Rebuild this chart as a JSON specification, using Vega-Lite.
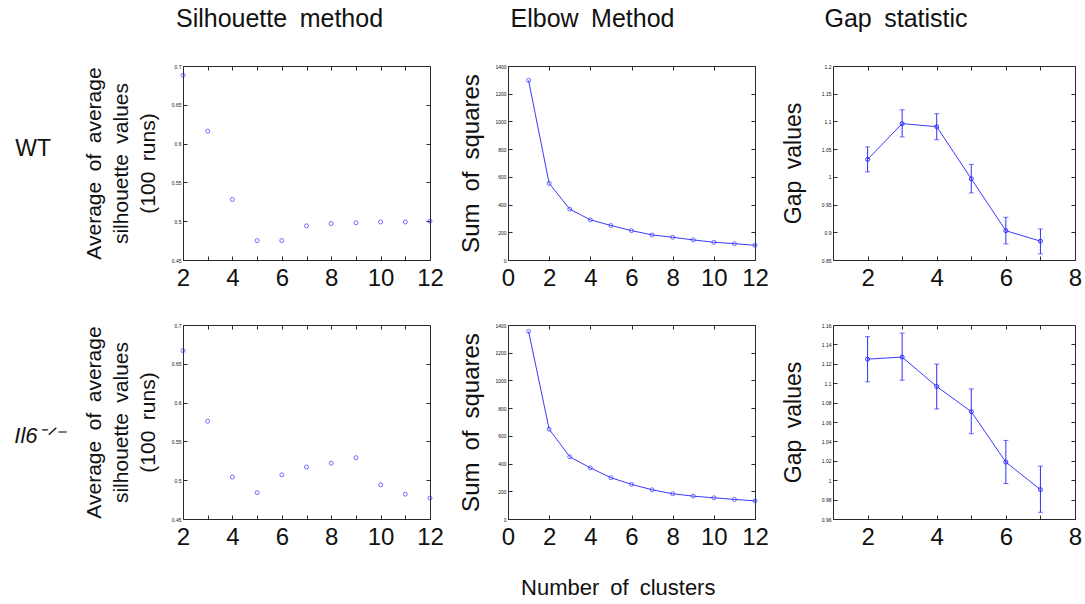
{
  "$schema": "https://vega.github.io/schema/vega-lite/v6.json",
  "background": "white",
  "padding": {"left": 14, "top": 6, "right": 4, "bottom": 4},
  "datasets": {
    "silWT": [
      {"k": 2, "v": 0.688}, {"k": 3, "v": 0.616}, {"k": 4, "v": 0.528}, {"k": 5, "v": 0.475},
      {"k": 6, "v": 0.475}, {"k": 7, "v": 0.494}, {"k": 8, "v": 0.497}, {"k": 9, "v": 0.498},
      {"k": 10, "v": 0.499}, {"k": 11, "v": 0.499}, {"k": 12, "v": 0.5}
    ],
    "silIl6": [
      {"k": 2, "v": 0.667}, {"k": 3, "v": 0.576}, {"k": 4, "v": 0.504}, {"k": 5, "v": 0.484},
      {"k": 6, "v": 0.507}, {"k": 7, "v": 0.517}, {"k": 8, "v": 0.522}, {"k": 9, "v": 0.529},
      {"k": 10, "v": 0.494}, {"k": 11, "v": 0.482}, {"k": 12, "v": 0.477}
    ],
    "elbowWT": [
      {"k": 1, "v": 1296}, {"k": 2, "v": 553}, {"k": 3, "v": 367}, {"k": 4, "v": 290},
      {"k": 5, "v": 249}, {"k": 6, "v": 212}, {"k": 7, "v": 181}, {"k": 8, "v": 164},
      {"k": 9, "v": 145}, {"k": 10, "v": 128}, {"k": 11, "v": 118}, {"k": 12, "v": 106}
    ],
    "elbowIl6": [
      {"k": 1, "v": 1354}, {"k": 2, "v": 648}, {"k": 3, "v": 449}, {"k": 4, "v": 369},
      {"k": 5, "v": 298}, {"k": 6, "v": 250}, {"k": 7, "v": 211}, {"k": 8, "v": 182},
      {"k": 9, "v": 165}, {"k": 10, "v": 153}, {"k": 11, "v": 141}, {"k": 12, "v": 131}
    ],
    "gapWT": [
      {"k": 2, "v": 1.0315, "lo": 1.009, "hi": 1.054},
      {"k": 3, "v": 1.096, "lo": 1.072, "hi": 1.121},
      {"k": 4, "v": 1.0905, "lo": 1.067, "hi": 1.114},
      {"k": 5, "v": 0.9966, "lo": 0.971, "hi": 1.0225},
      {"k": 6, "v": 0.9028, "lo": 0.879, "hi": 0.927},
      {"k": 7, "v": 0.884, "lo": 0.861, "hi": 0.906}
    ],
    "gapIl6": [
      {"k": 2, "v": 1.1248, "lo": 1.1014, "hi": 1.148},
      {"k": 3, "v": 1.1269, "lo": 1.1031, "hi": 1.1517},
      {"k": 4, "v": 1.0966, "lo": 1.0734, "hi": 1.1197},
      {"k": 5, "v": 1.0707, "lo": 1.0479, "hi": 1.0941},
      {"k": 6, "v": 1.0186, "lo": 0.9966, "hi": 1.041},
      {"k": 7, "v": 0.9903, "lo": 0.9669, "hi": 1.0145}
    ]
  },
  "config": {
    "font": "Liberation Sans",
    "view": {"stroke": "#2a2a2a", "strokeWidth": 1},
    "axis": {
      "domain": false,
      "grid": false,
      "ticks": true,
      "tickSize": -4,
      "tickColor": "#2a2a2a",
      "labelColor": "#111",
      "titleColor": "#111",
      "titleFontWeight": "normal",
      "labelFont": "Liberation Sans",
      "titleFont": "Liberation Sans"
    },
    "axisX": {"labelFontSize": 24, "labelPadding": 10, "labelFlush": false, "labelOverlap": false},
    "axisY": {"labelFontSize": 5, "labelPadding": 6, "titleFontSize": 22, "labelOverlap": false},
    "title": {"fontWeight": "normal", "color": "#111", "font": "Liberation Sans"}
  },
  "title": {"text": "Number\u2002of\u2002clusters", "orient": "bottom", "anchor": "middle", "fontSize": 22, "offset": 28, "dx": 70},
  "spacing": 31,
  "vconcat": [
    {
      "title": {"text": "WT", "orient": "left", "angle": 0, "align": "right", "baseline": "middle", "anchor": "middle", "fontSize": 23, "offset": -4},
      "spacing": 78,
      "bounds": "flush",
      "hconcat": [
        {
          "width": 247, "height": 194,
          "title": {"text": "Silhouette\u2002method", "fontSize": 25, "offset": 32, "frame": "group", "anchor": "middle", "dx": -27},
          "data": {"name": "silWT"},
          "layer": [
            {
              "mark": {"type": "point", "shape": "circle", "filled": false, "color": "#2f2fff", "size": 16, "strokeWidth": 1, "clip": false},
              "encoding": {
                "x": {"field": "k", "type": "quantitative", "scale": {"domain": [2, 12], "nice": false, "zero": false},
                      "axis": {"values": [2,3,4,5,6,7,8,9,10,11,12], "labelExpr": "datum.value % 2 == 0 ? datum.label : ''", "title": null}},
                "y": {"field": "v", "type": "quantitative", "scale": {"domain": [0.45, 0.7], "nice": false, "zero": false},
                      "axis": {"values": [0.45,0.5,0.55,0.6,0.65,0.7], "format": "~g", "title": ["Average\u2002of\u2002average", "silhouette\u2002values", "(100\u2002runs)"], "titleFontSize": 21, "titleLineHeight": 27, "titlePadding": 13}}
              }
            },
            {
              "mark": {"type": "point", "opacity": 0},
              "encoding": {
                "x": {"field": "k", "type": "quantitative", "axis": {"orient": "top", "values": [2,3,4,5,6,7,8,9,10,11,12], "labels": false, "title": null}},
                "y": {"field": "v", "type": "quantitative", "axis": {"orient": "right", "values": [0.45,0.5,0.55,0.6,0.65,0.7], "labels": false, "title": null}}
              }
            }
          ],
          "resolve": {"axis": {"x": "independent", "y": "independent"}}
        },
        {
          "width": 247, "height": 194,
          "title": {"text": "Elbow\u2002Method", "fontSize": 25, "offset": 32, "frame": "group", "anchor": "middle", "dx": -39},
          "data": {"name": "elbowWT"},
          "layer": [
            {
              "mark": {"type": "line", "color": "#3a3aff", "strokeWidth": 1},
              "encoding": {
                "x": {"field": "k", "type": "quantitative", "scale": {"domain": [0, 12], "nice": false, "zero": false},
                      "axis": {"orient": "top", "values": [0,2,4,6,8,10,12], "labels": false, "title": null}},
                "y": {"field": "v", "type": "quantitative", "scale": {"domain": [0, 1400], "nice": false},
                      "axis": {"orient": "right", "values": [0,200,400,600,800,1000,1200,1400], "labels": false, "title": null}}
              }
            },
            {
              "mark": {"type": "point", "shape": "circle", "filled": false, "color": "#2f2fff", "size": 16, "strokeWidth": 1, "clip": false},
              "encoding": {
                "x": {"field": "k", "type": "quantitative", "axis": {"values": [0,2,4,6,8,10,12], "title": null}},
                "y": {"field": "v", "type": "quantitative", "axis": {"values": [0,200,400,600,800,1000,1200,1400], "format": "d", "title": "Sum\u2002of\u2002squares", "titleFontSize": 24, "titlePadding": 11}}
              }
            }
          ],
          "resolve": {"axis": {"x": "independent", "y": "independent"}}
        },
        {
          "width": 242, "height": 194,
          "title": {"text": "Gap\u2002statistic", "fontSize": 25, "offset": 32, "frame": "group", "anchor": "middle", "dx": -58},
          "data": {"name": "gapWT"},
          "layer": [
            {
              "mark": {"type": "errorbar", "color": "#2f2fff", "ticks": {"size": 5, "thickness": 1}, "thickness": 1},
              "encoding": {
                "x": {"field": "k", "type": "quantitative", "scale": {"domain": [1, 8], "nice": false, "zero": false},
                      "axis": {"orient": "top", "values": [2,3,4,5,6,7], "labels": false, "title": null}},
                "y": {"field": "lo", "type": "quantitative", "scale": {"domain": [0.85, 1.2], "nice": false, "zero": false},
                      "axis": {"orient": "right", "values": [0.85,0.9,0.95,1,1.05,1.1,1.15,1.2], "labels": false, "title": null}},
                "y2": {"field": "hi"}
              }
            },
            {
              "mark": {"type": "line", "color": "#3a3aff", "strokeWidth": 1, "point": {"shape": "circle", "filled": false, "color": "#2f2fff", "size": 16, "strokeWidth": 1}},
              "encoding": {
                "x": {"field": "k", "type": "quantitative", "axis": {"values": [2,3,4,5,6,7,8], "labelExpr": "datum.value % 2 == 0 ? datum.label : ''", "title": null}},
                "y": {"field": "v", "type": "quantitative", "axis": {"values": [0.85,0.9,0.95,1,1.05,1.1,1.15,1.2], "format": "~g", "title": "Gap\u2002values", "titleFontSize": 23, "titlePadding": 16}}
              }
            }
          ],
          "resolve": {"axis": {"x": "independent", "y": "independent"}}
        }
      ]
    },
    {
      "title": {"text": "Il6\u207b\u141f\u207b", "orient": "left", "angle": 0, "align": "right", "baseline": "middle", "anchor": "middle", "fontSize": 22, "fontStyle": "italic", "offset": -34},
      "spacing": 78,
      "bounds": "flush",
      "hconcat": [
        {
          "width": 247, "height": 194,
          "data": {"name": "silIl6"},
          "layer": [
            {
              "mark": {"type": "point", "shape": "circle", "filled": false, "color": "#2f2fff", "size": 16, "strokeWidth": 1, "clip": false},
              "encoding": {
                "x": {"field": "k", "type": "quantitative", "scale": {"domain": [2, 12], "nice": false, "zero": false},
                      "axis": {"values": [2,3,4,5,6,7,8,9,10,11,12], "labelExpr": "datum.value % 2 == 0 ? datum.label : ''", "title": null}},
                "y": {"field": "v", "type": "quantitative", "scale": {"domain": [0.45, 0.7], "nice": false, "zero": false},
                      "axis": {"values": [0.45,0.5,0.55,0.6,0.65,0.7], "format": "~g", "title": ["Average\u2002of\u2002average", "silhouette\u2002values", "(100\u2002runs)"], "titleFontSize": 21, "titleLineHeight": 27, "titlePadding": 13}}
              }
            },
            {
              "mark": {"type": "point", "opacity": 0},
              "encoding": {
                "x": {"field": "k", "type": "quantitative", "axis": {"orient": "top", "values": [2,3,4,5,6,7,8,9,10,11,12], "labels": false, "title": null}},
                "y": {"field": "v", "type": "quantitative", "axis": {"orient": "right", "values": [0.45,0.5,0.55,0.6,0.65,0.7], "labels": false, "title": null}}
              }
            }
          ],
          "resolve": {"axis": {"x": "independent", "y": "independent"}}
        },
        {
          "width": 247, "height": 194,
          "data": {"name": "elbowIl6"},
          "layer": [
            {
              "mark": {"type": "line", "color": "#3a3aff", "strokeWidth": 1},
              "encoding": {
                "x": {"field": "k", "type": "quantitative", "scale": {"domain": [0, 12], "nice": false, "zero": false},
                      "axis": {"orient": "top", "values": [0,2,4,6,8,10,12], "labels": false, "title": null}},
                "y": {"field": "v", "type": "quantitative", "scale": {"domain": [0, 1400], "nice": false},
                      "axis": {"orient": "right", "values": [0,200,400,600,800,1000,1200,1400], "labels": false, "title": null}}
              }
            },
            {
              "mark": {"type": "point", "shape": "circle", "filled": false, "color": "#2f2fff", "size": 16, "strokeWidth": 1, "clip": false},
              "encoding": {
                "x": {"field": "k", "type": "quantitative", "axis": {"values": [0,2,4,6,8,10,12], "title": null}},
                "y": {"field": "v", "type": "quantitative", "axis": {"values": [0,200,400,600,800,1000,1200,1400], "format": "d", "title": "Sum\u2002of\u2002squares", "titleFontSize": 24, "titlePadding": 11}}
              }
            }
          ],
          "resolve": {"axis": {"x": "independent", "y": "independent"}}
        },
        {
          "width": 242, "height": 194,
          "data": {"name": "gapIl6"},
          "layer": [
            {
              "mark": {"type": "errorbar", "color": "#2f2fff", "ticks": {"size": 5, "thickness": 1}, "thickness": 1},
              "encoding": {
                "x": {"field": "k", "type": "quantitative", "scale": {"domain": [1, 8], "nice": false, "zero": false},
                      "axis": {"orient": "top", "values": [2,3,4,5,6,7], "labels": false, "title": null}},
                "y": {"field": "lo", "type": "quantitative", "scale": {"domain": [0.96, 1.16], "nice": false, "zero": false},
                      "axis": {"orient": "right", "values": [0.96,0.98,1,1.02,1.04,1.06,1.08,1.1,1.12,1.14,1.16], "labels": false, "title": null}},
                "y2": {"field": "hi"}
              }
            },
            {
              "mark": {"type": "line", "color": "#3a3aff", "strokeWidth": 1, "point": {"shape": "circle", "filled": false, "color": "#2f2fff", "size": 16, "strokeWidth": 1}},
              "encoding": {
                "x": {"field": "k", "type": "quantitative", "axis": {"values": [2,3,4,5,6,7,8], "labelExpr": "datum.value % 2 == 0 ? datum.label : ''", "title": null}},
                "y": {"field": "v", "type": "quantitative", "axis": {"values": [0.96,0.98,1,1.02,1.04,1.06,1.08,1.1,1.12,1.14,1.16], "format": "~g", "title": "Gap\u2002values", "titleFontSize": 23, "titlePadding": 16}}
              }
            }
          ],
          "resolve": {"axis": {"x": "independent", "y": "independent"}}
        }
      ]
    }
  ]
}
